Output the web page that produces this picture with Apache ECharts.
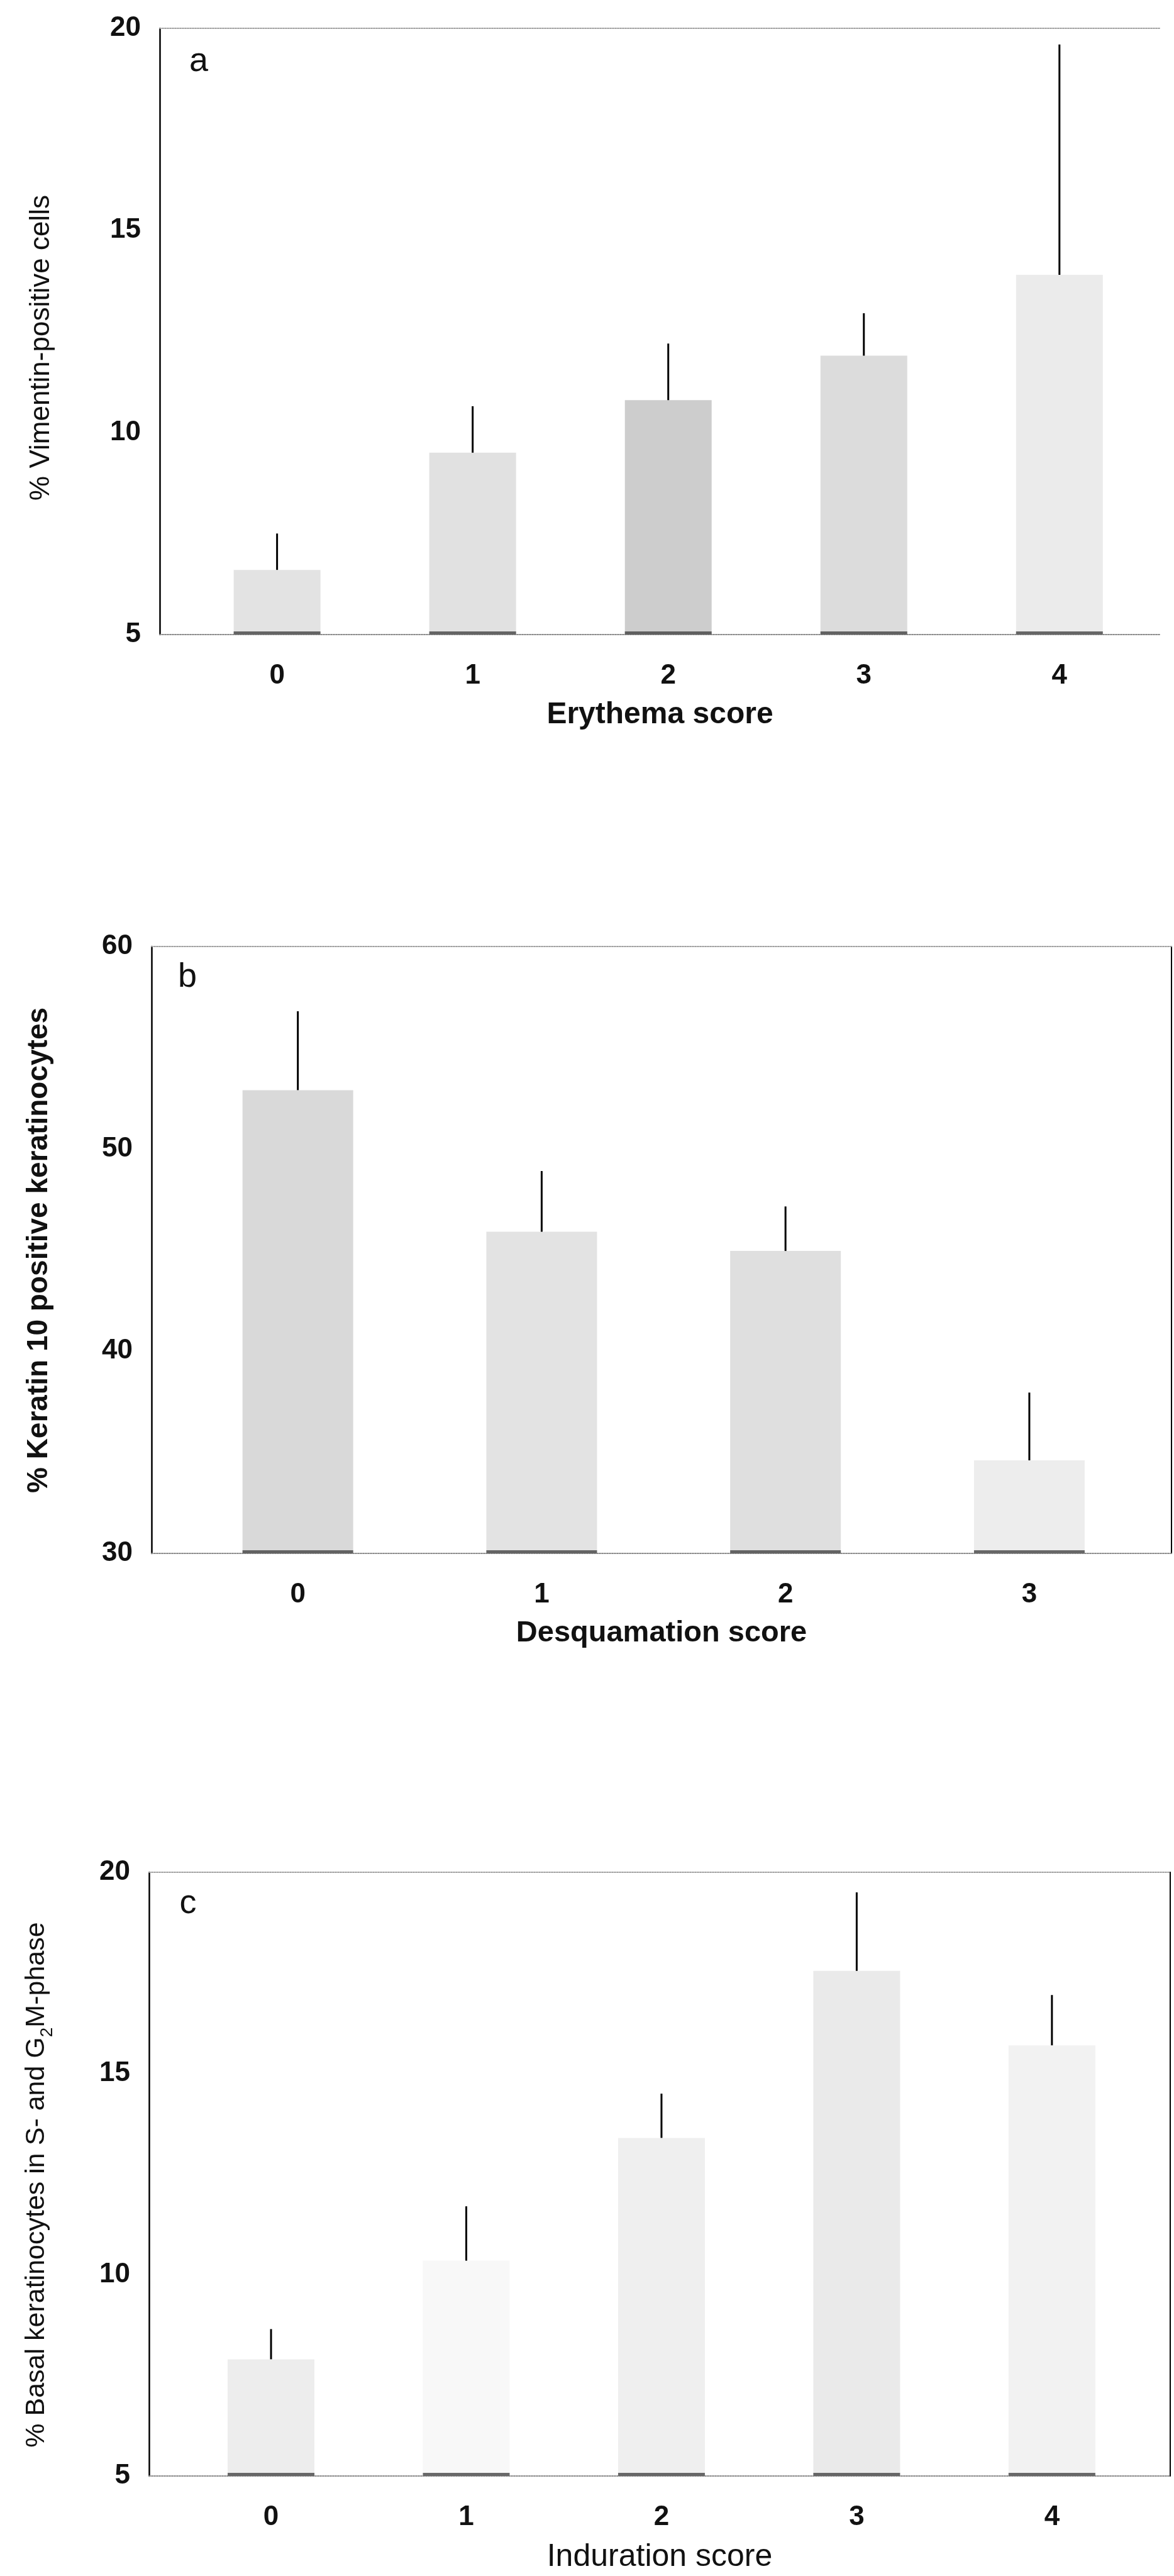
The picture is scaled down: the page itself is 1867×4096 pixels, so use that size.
<!DOCTYPE html>
<html>
<head>
<meta charset="utf-8">
<script src="https://cdn.jsdelivr.net/npm/echarts@6/dist/echarts.min.js"></script>
<style>html,body{margin:0;padding:0;background:#fff}#main{width:1867px;height:4096px}</style>
</head>
<body>
<div id="main"></div>
<script>
// ---- data ----
const catsA = ['0', '1', '2', '3', '4'];          // Erythema score
const meanA = [6.6, 9.5, 10.8, 11.9, 13.9];
const errA  = [7.5, 10.65, 12.2, 12.95, 19.6];

const catsB = ['0', '1', '2', '3'];               // Desquamation score
const meanB = [52.9, 45.9, 44.95, 34.6];
const errB  = [56.8, 48.9, 47.15, 37.95];

const catsC = ['0', '1', '2', '3', '4'];          // Induration score
const meanC = [7.9, 10.35, 13.4, 17.55, 15.7];
const errC  = [8.65, 11.7, 14.5, 19.5, 16.95];

const yTicksA = [5, 10, 15, 20];
const yTicksB = [30, 40, 50, 60];
const yTicksC = [5, 10, 15, 20];

// ---- styling ----
const FF = '"Liberation Sans", Arial, Helvetica, sans-serif';
const INK = '#111';
const shadeA = ['#e3e3e3', '#e1e1e1', '#cdcdcd', '#dcdcdc', '#ebebeb'];
const shadeB = ['#d9d9d9', '#e3e3e3', '#dfdfdf', '#ededed'];
const shadeC = ['#ededed', '#f8f8f8', '#efefef', '#eaeaea', '#f2f2f2'];

const panels = [
  { cats: catsA, mean: meanA, err: errA, ticks: yTicksA, shade: shadeA,
    grid: { left: 254, top: 45, width: 1591, height: 964 },
    xMin: -0.6, xMax: 4.515, barW: 138, rightLine: false,
    xName: 'Erythema score', xNameStyle: { fontSize: 48, fontWeight: 'bold' } },
  { cats: catsB, mean: meanB, err: errB, ticks: yTicksB, shade: shadeB,
    grid: { left: 241, top: 1505, width: 1622, height: 965 },
    xMin: -0.6, xMax: 3.583, barW: 176, rightLine: true,
    xName: 'Desquamation score', xNameStyle: { fontSize: 47, fontWeight: 'bold' } },
  { cats: catsC, mean: meanC, err: errC, ticks: yTicksC, shade: shadeC,
    grid: { left: 237, top: 2977, width: 1624, height: 960 },
    xMin: -0.625, xMax: 4.606, barW: 138, rightLine: true,
    xName: 'Induration score', xNameStyle: { fontSize: 50, fontWeight: 'normal' } }
];

const grids = [], xAxes = [], yAxes = [], series = [];

panels.forEach((p, k) => {
  grids.push(Object.assign({ containLabel: false }, p.grid));
  const yMin = p.ticks[0], yMax = p.ticks[p.ticks.length - 1];
  const step = p.ticks[1] - p.ticks[0];
  const idx = p.cats.map((c, i) => i);

  // bottom axis (dotted base line, category labels, title)
  xAxes.push({
    gridIndex: k, type: 'value', min: p.xMin, max: p.xMax, position: 'bottom',
    axisLine: { show: true, onZero: false, lineStyle: { color: '#8a8a8a', type: 'dotted', width: 2 } },
    axisTick: { show: false }, splitLine: { show: false },
    axisLabel: {
      customValues: idx, formatter: v => p.cats[Math.round(v)],
      margin: 44, fontSize: 44, fontWeight: 'bold', color: INK, fontFamily: FF
    },
    name: p.xName, nameLocation: 'middle', nameGap: 104,
    nameTextStyle: Object.assign({ color: INK, fontFamily: FF }, p.xNameStyle)
  });
  // top dotted frame line
  xAxes.push({
    gridIndex: k, type: 'value', min: p.xMin, max: p.xMax, position: 'top',
    axisLine: { show: true, onZero: false, lineStyle: { color: '#a0a0a0', type: 'dotted', width: 2 } },
    axisTick: { show: false }, axisLabel: { show: false }, splitLine: { show: false }
  });
  // left value axis
  yAxes.push({
    gridIndex: k, type: 'value', min: yMin, max: yMax, interval: step, position: 'left',
    axisLine: { show: true, onZero: false, lineStyle: { color: '#000', width: 2.5 } },
    axisTick: { show: false }, splitLine: { show: false },
    axisLabel: { margin: 30, fontSize: 44, fontWeight: 'bold', color: INK, fontFamily: FF }
  });
  // right frame line (panels b and c)
  yAxes.push({
    gridIndex: k, type: 'value', min: yMin, max: yMax, interval: step, position: 'right',
    axisLine: { show: p.rightLine, onZero: false, lineStyle: { color: '#000', width: 2 } },
    axisTick: { show: false }, axisLabel: { show: false }, splitLine: { show: false }
  });

  const xi = 2 * k, yi = 2 * k;
  series.push({
    type: 'bar', xAxisIndex: xi, yAxisIndex: yi, barWidth: p.barW, clip: true,
    data: p.mean.map((v, i) => ({ value: [i, v], itemStyle: { color: p.shade[i] } })),
    silent: true, z: 2
  });
  // dark foot of each bar on the base line
  series.push({
    type: 'custom', xAxisIndex: xi, yAxisIndex: yi, silent: true, z: 3,
    data: p.mean.map((v, i) => [i, yMin]),
    renderItem: (params, api) => {
      const c = api.coord([api.value(0), api.value(1)]);
      return { type: 'rect', shape: { x: c[0] - p.barW / 2, y: c[1] - 5, width: p.barW, height: 5 },
               style: { fill: '#3a3a3a', opacity: 0.75 } };
    }
  });
  // error bars (mean -> mean + SE)
  series.push({
    type: 'custom', xAxisIndex: xi, yAxisIndex: yi, silent: true, z: 4,
    data: p.mean.map((v, i) => [i, v, p.err[i]]),
    renderItem: (params, api) => {
      const a = api.coord([api.value(0), api.value(1)]);
      const b = api.coord([api.value(0), api.value(2)]);
      return { type: 'line', shape: { x1: a[0], y1: a[1], x2: b[0], y2: b[1] },
               style: { stroke: '#000', lineWidth: 3 } };
    }
  });
});

const letter = (t, x, y) => ({ type: 'text', x: x, y: y, silent: true,
  style: { text: t, fontSize: 54, fontFamily: FF, fill: INK, align: 'center', verticalAlign: 'middle' } });

const yTitle = (x, y, style) => Object.assign({ type: 'text', x: x, y: y, rotation: Math.PI / 2, silent: true }, { style: style });

const graphic = [
  letter('a', 316, 98), letter('b', 298, 1554), letter('c', 299, 3027),
  yTitle(66, 553, { text: '% Vimentin-positive cells', fontSize: 44, fontFamily: FF, fill: INK,
                    align: 'center', verticalAlign: 'middle' }),
  yTitle(62, 1988, { text: '% Keratin 10 positive keratinocytes', fontSize: 46, fontWeight: 'bold',
                     fontFamily: FF, fill: INK, align: 'center', verticalAlign: 'middle' }),
  yTitle(58, 3474, { text: '{n|% Basal keratinocytes in S- and G}{s|2}{n|M-phase}', fontFamily: FF, fill: INK,
                     align: 'center', verticalAlign: 'middle',
                     rich: { n: { fontSize: 43, fontFamily: FF, fill: INK, lineHeight: 46 },
                             s: { fontSize: 28, fontFamily: FF, fill: INK, lineHeight: 62, verticalAlign: 'bottom' } } })
];

const chart = echarts.init(document.getElementById('main'), null, { renderer: 'canvas', width: 1867, height: 4096 });
chart.setOption({
  animation: false,
  backgroundColor: '#fff',
  grid: grids, xAxis: xAxes, yAxis: yAxes, series: series, graphic: graphic
});
</script>
</body>
</html>
